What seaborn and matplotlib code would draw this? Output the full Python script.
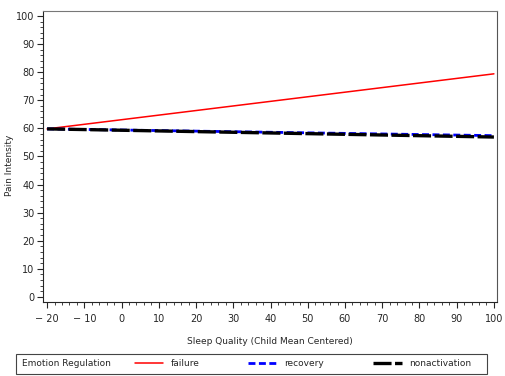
import pandas as pd
import numpy as np
import seaborn as sns
import matplotlib.pyplot as plt
from matplotlib.lines import Line2D
from matplotlib.patches import Rectangle
from matplotlib.ticker import MultipleLocator

# dados
sleep_quality = [-20, 100]
failure = [59.8, 79.4]
recovery = [59.8, 57.4]
nonactivation = [59.8, 56.9]
grupos = ['failure', 'recovery', 'nonactivation']

df = pd.DataFrame({
    'Sleep': sleep_quality * 3,
    'Pain': failure + recovery + nonactivation,
    'Grupo': [g for g in grupos for _ in sleep_quality],
})

sns.set_style('ticks')
plt.rcParams['font.family'] = ['DejaVu Sans']
plt.rcParams['lines.scale_dashes'] = False

fig = plt.figure(figsize=(5.06, 3.76), dpi=100)
ax = fig.add_axes([0.085, 0.197, 0.897, 0.774])

cores = {'failure': 'red', 'recovery': 'blue', 'nonactivation': 'black'}
larguras = {'failure': 1.1, 'recovery': 2.0, 'nonactivation': 2.4}
tracos = {'failure': None, 'recovery': (5, 2.5), 'nonactivation': (13, 2.5)}

for g in grupos:
    sns.lineplot(x='Sleep', y='Pain', data=df[df['Grupo'] == g], ax=ax,
                 color=cores[g], linewidth=larguras[g], legend=False)
    if tracos[g]:
        ax.lines[-1].set_dashes(tracos[g])

ax.set_xlim(-21.1, 100.8)
ax.set_ylim(-1.8, 101.8)
ax.xaxis.set_major_locator(MultipleLocator(10))
ax.xaxis.set_minor_locator(MultipleLocator(2))
ax.yaxis.set_major_locator(MultipleLocator(10))
ax.yaxis.set_minor_locator(MultipleLocator(2))
ax.tick_params(which='major', length=4, width=0.8, labelsize=7)
ax.tick_params(which='minor', length=2, width=0.6)
ax.tick_params(axis='x', which='major', pad=5)
ax.tick_params(axis='y', which='major', pad=2)
ax.set_xticklabels([str(int(t)).replace('-', '\u2212 ') for t in ax.get_xticks()])
for s in ax.spines.values():
    s.set_visible(True)
    s.set_linewidth(0.8)
ax.spines['top'].set_color('#777777')
ax.spines['right'].set_color('#555555')

ax.set_xlabel('Sleep Quality (Child Mean Centered)', fontsize=6.5, labelpad=9)
ax.set_ylabel('Pain Intensity', fontsize=6.5, labelpad=6)
ax.yaxis.set_label_coords(-0.065, 0.47)

# caixa da legenda
fig.patches.append(Rectangle((0.032, 0.005), 0.93, 0.054, transform=fig.transFigure,
                             fill=False, edgecolor='#444444', linewidth=0.8))
fig.text(0.044, 0.032, 'Emotion Regulation', fontsize=6.5, va='center')

handles = []
for g in grupos:
    l = Line2D([], [], color=cores[g], linewidth=larguras[g])
    if tracos[g]:
        l.set_dashes(tracos[g])
    handles.append(l)
leg = fig.legend(handles, grupos, ncol=3, loc='center left',
                 bbox_to_anchor=(0.266, 0.032), fontsize=6.5, frameon=False,
                 handlelength=3.2, handletextpad=0.8, columnspacing=5.4,
                 borderpad=0, borderaxespad=0)

plt.savefig('out.png', dpi=100)
